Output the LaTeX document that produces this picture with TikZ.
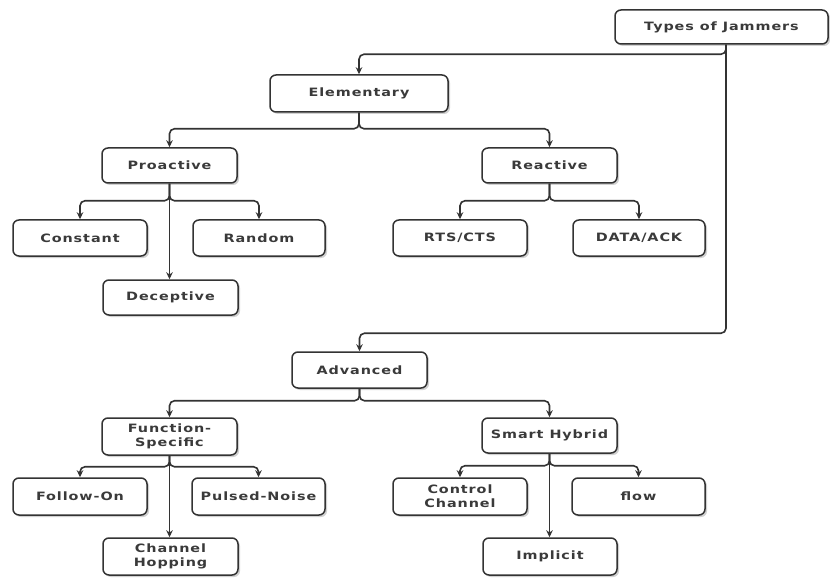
\documentclass[tikz,border=0pt]{standalone}
\usepackage{fontspec}
\setmainfont{DejaVu Sans}[FakeStretch=1.25, LetterSpace=8]
\usetikzlibrary{arrows.meta,shadows}
\definecolor{edge}{HTML}{333333}
\definecolor{txt}{HTML}{3A3A3A}
\tikzset{
  box/.style={draw=edge, line width=1.5pt, rounded corners=6pt, fill=white,
    minimum width=134pt, minimum height=36pt, inner sep=2pt, align=center,
    text=txt, font=\fontsize{11.5pt}{14pt}\selectfont\bfseries,
    drop shadow={shadow xshift=2pt, shadow yshift=-2pt, fill=black, opacity=0.18}},
  conn/.style={draw=edge, line width=1.6pt, rounded corners=5pt,
    -{Stealth[length=7pt,width=6.5pt]}}
}
\begin{document}
\begin{tikzpicture}[x=1pt,y=-1pt]
\useasboundingbox[fill=white] (0,0) rectangle (830,580);

\node[box, minimum width=213pt, minimum height=34pt] (T) at (721.5,27) {Types of Jammers};
\node[box, minimum width=178pt, minimum height=37pt] (E) at (359,93.5) {Elementary};
\node[box, minimum width=135pt, minimum height=35pt] (P) at (169.5,165.5) {Proactive};
\node[box, minimum width=135pt, minimum height=35pt] (R) at (549.5,165.5) {Reactive};
\node[box] (C) at (80,238) {Constant};
\node[box, minimum width=132pt] (Rd) at (259,238) {Random};
\node[box, minimum width=135pt, minimum height=35pt] (D) at (170.5,297.5) {Deceptive};
\node[box] (RC) at (460,238) {RTS/CTS};
\node[box, minimum width=132pt] (DA) at (639,238) {DATA/ACK};

\node[box, minimum width=135pt] (A) at (359.5,370) {Advanced};
\node[box, minimum width=135pt, minimum height=37pt] (F) at (169.5,436.5) {Function-\\Specific};
\node[box, minimum width=135pt, minimum height=35pt] (S) at (549.5,435.5) {Smart Hybrid};
\node[box, minimum height=37pt] (FO) at (80,496.5) {Follow-On};
\node[box, minimum width=133pt, minimum height=37pt] (PN) at (258.5,496.5) {Pulsed-Noise};
\node[box, minimum width=135pt, minimum height=37pt] (CH) at (170.5,556.5) {Channel\\Hopping};
\node[box, minimum height=37pt] (CC) at (460,496.5) {Control\\Channel};
\node[box, minimum width=133pt, minimum height=37pt] (FL) at (638.5,496.5) {flow};
\node[box, minimum height=37pt] (I) at (550,556.5) {Implicit};

% root
\draw[conn] ([xshift=4.5pt]T.south) |- ([yshift=20pt]E.north) -- (E.north);
\draw[conn] ([xshift=4.5pt]T.south) |- ([yshift=18pt]A.north) -- (A.north);

% elementary
\draw[conn] (E.south) -- ++(0,16) -| (P.north);
\draw[conn] (E.south) -- ++(0,16) -| (R.north);
\draw[conn] (P.south) -- ++(0,17) -| (C.north);
\draw[conn] (P.south) -- ++(0,17) -| (Rd.north);
\draw[conn] (P.south) -- (P.south |- D.north);
\draw[conn] (R.south) -- ++(0,17) -| (RC.north);
\draw[conn] (R.south) -- ++(0,17) -| (DA.north);

% advanced
\draw[conn] (A.south) -- ++(0,12) -| (F.north);
\draw[conn] (A.south) -- ++(0,12) -| (S.north);
\draw[conn] (F.south) -- ++(0,11) -| (FO.north);
\draw[conn] (F.south) -- ++(0,11) -| (PN.north);
\draw[conn] (F.south) -- (F.south |- CH.north);
\draw[conn] (S.south) -- ++(0,12) -| (CC.north);
\draw[conn] (S.south) -- ++(0,12) -| (FL.north);
\draw[conn] (S.south) -- (S.south |- I.north);
\end{tikzpicture}
\end{document}
